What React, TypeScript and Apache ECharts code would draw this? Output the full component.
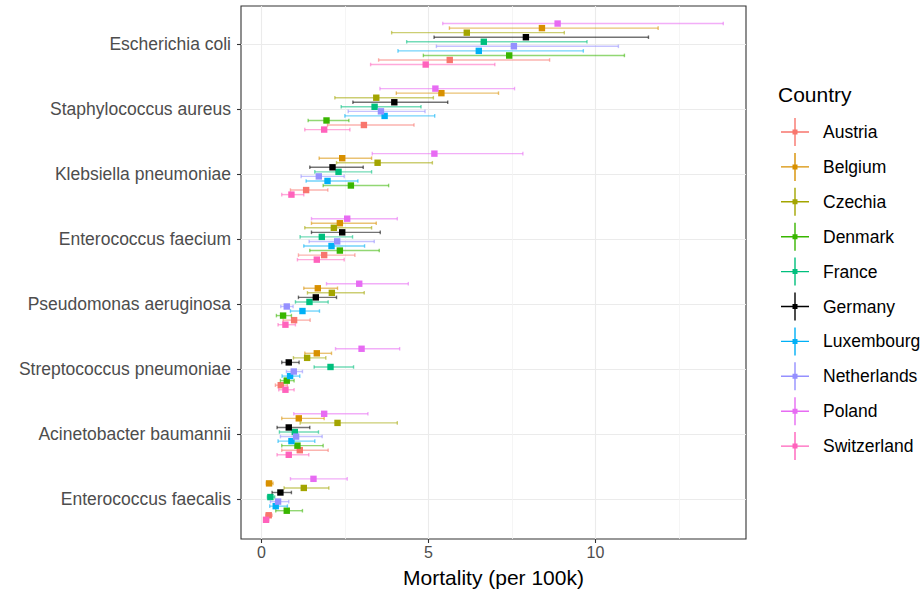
import React, { useEffect, useRef } from "react";
import * as echarts from "echarts";

// Pathogens, top to bottom
const pathogens = [
  "Escherichia coli",
  "Staphylococcus aureus",
  "Klebsiella pneumoniae",
  "Enterococcus faecium",
  "Pseudomonas aeruginosa",
  "Streptococcus pneumoniae",
  "Acinetobacter baumannii",
  "Enterococcus faecalis",
];

const countries = [
  "Austria",
  "Belgium",
  "Czechia",
  "Denmark",
  "France",
  "Germany",
  "Luxembourg",
  "Netherlands",
  "Poland",
  "Switzerland",
];

const countryColors = [
  "#F8766D",
  "#D89000",
  "#A3A500",
  "#39B600",
  "#00BF7D",
  "#000000",
  "#00B0F6",
  "#9590FF",
  "#E76BF3",
  "#FF62BC",
];

// Vertical dodge slot of each country inside a pathogen row (0 = top)
const dodgeSlot = [8, 1, 2, 7, 4, 3, 6, 5, 0, 9];
const dodgeStep = 0.07;

// Rows: pathogens; columns: countries (same order as `countries`)
const estimates = [
  [5.64, 8.4, 6.15, 7.42, 6.66, 7.92, 6.51, 7.56, 8.87, 4.92],
  [3.07, 5.39, 3.44, 1.95, 3.39, 3.98, 3.69, 3.58, 5.21, 1.88],
  [1.34, 2.42, 3.48, 2.68, 2.31, 2.13, 1.98, 1.72, 5.18, 0.9],
  [1.88, 2.35, 2.17, 2.35, 1.81, 2.42, 2.1, 2.27, 2.57, 1.66],
  [0.98, 1.69, 2.11, 0.65, 1.44, 1.63, 1.23, 0.76, 2.93, 0.72],
  [0.58, 1.66, 1.37, 0.76, 2.07, 0.82, 0.86, 0.97, 3.0, 0.72],
  [1.15, 1.12, 2.28, 1.08, 1.0, 0.82, 0.9, 1.04, 1.88, 0.82],
  [0.22, 0.23, 1.27, 0.76, 0.27, 0.57, 0.43, 0.5, 1.56, 0.14],
];

const lowerCI = [
  [3.51, 5.63, 3.9, 4.85, 4.35, 5.17, 4.09, 5.24, 5.43, 3.27],
  [1.98, 4.04, 2.2, 1.4, 2.39, 2.74, 2.5, 2.6, 3.55, 1.3],
  [0.87, 1.73, 2.25, 1.85, 1.6, 1.45, 1.34, 1.19, 3.32, 0.61],
  [1.11, 1.5, 1.3, 1.45, 1.16, 1.5, 1.27, 1.43, 1.5, 1.08],
  [0.65, 1.27, 1.38, 0.45, 1.02, 1.11, 0.87, 0.58, 1.95, 0.5],
  [0.42, 1.3, 0.96, 0.57, 1.58, 0.61, 0.62, 0.75, 2.22, 0.52],
  [0.61, 0.61, 1.16, 0.61, 0.54, 0.47, 0.5, 0.57, 0.97, 0.47],
  [0.13, 0.15, 0.68, 0.43, 0.18, 0.32, 0.25, 0.27, 0.87, 0.08],
];

const upperCI = [
  [8.63, 11.88, 9.07, 10.87, 9.75, 11.59, 9.64, 10.69, 13.83, 6.99],
  [4.57, 7.1, 5.15, 2.62, 4.78, 5.58, 5.19, 4.9, 7.58, 2.65],
  [1.99, 3.3, 5.12, 3.81, 3.3, 3.05, 2.89, 2.48, 7.83, 1.27],
  [2.8, 3.44, 3.3, 3.53, 2.73, 3.56, 3.09, 3.38, 4.07, 2.48],
  [1.46, 2.28, 3.08, 0.9, 2.0, 2.25, 1.74, 0.95, 4.4, 1.02],
  [0.78, 2.1, 1.93, 0.98, 2.76, 1.13, 1.15, 1.23, 4.14, 0.98],
  [2.0, 1.88, 4.07, 1.85, 1.71, 1.45, 1.6, 1.82, 3.19, 1.42],
  [0.32, 0.35, 2.02, 1.23, 0.4, 0.9, 0.78, 0.82, 2.57, 0.22],
];

const xTicks = [0, 5, 10];

const FONT = "'Liberation Sans', Arial, Helvetica, sans-serif";

// Cross-shaped key: horizontal error bar, vertical line and a square point
const legendIcon =
  "path://M0,13.3H28V14.7H0Z M13.3,0H14.7V28H13.3Z M11.5,11.5H16.5V16.5H11.5Z";

function renderErrorPoint(params: any, api: any) {
  const y = api.value(0);
  const est = api.value(1);
  const lo = api.value(2);
  const hi = api.value(3);
  const pLo = api.coord([lo, y]);
  const pHi = api.coord([hi, y]);
  const pEst = api.coord([est, y]);
  const color = api.visual("color");
  const cap = 1.8;
  const s = 6.4;
  const barStyle = { stroke: color, lineWidth: 1.4, opacity: 0.55 };
  return {
    type: "group",
    children: [
      {
        type: "line",
        shape: { x1: pLo[0], y1: pLo[1], x2: pHi[0], y2: pHi[1] },
        style: barStyle,
      },
      {
        type: "line",
        shape: { x1: pLo[0], y1: pLo[1] - cap, x2: pLo[0], y2: pLo[1] + cap },
        style: barStyle,
      },
      {
        type: "line",
        shape: { x1: pHi[0], y1: pHi[1] - cap, x2: pHi[0], y2: pHi[1] + cap },
        style: barStyle,
      },
      {
        type: "rect",
        shape: { x: pEst[0] - s / 2, y: pEst[1] - s / 2, width: s, height: s },
        style: { fill: color },
      },
    ],
  };
}

export default function App() {
  const ref = useRef<HTMLDivElement>(null);

  useEffect(() => {
    if (!ref.current) return;
    const chart = echarts.init(ref.current, undefined, { renderer: "svg" });

    const series = countries.map((country, ci) => ({
      name: country,
      type: "custom",
      coordinateSystem: "cartesian2d",
      xAxisIndex: 0,
      yAxisIndex: 0,
      itemStyle: { color: countryColors[ci] },
      encode: { x: [1, 2, 3], y: 0 },
      renderItem: renderErrorPoint,
      data: pathogens.map((_, pi) => [
        pi + (dodgeSlot[ci] - 4.5) * dodgeStep,
        estimates[pi][ci],
        lowerCI[pi][ci],
        upperCI[pi][ci],
      ]),
    }));

    chart.setOption({
      animation: false,
      backgroundColor: "#ffffff",
      textStyle: { fontFamily: FONT },
      title: {
        text: "Country",
        left: 778,
        top: 84,
        padding: 0,
        textStyle: {
          fontFamily: FONT,
          fontSize: 21,
          fontWeight: "normal",
          color: "#000000",
        },
      },
      legend: {
        orient: "vertical",
        left: 781,
        top: 118,
        padding: 0,
        itemWidth: 28,
        itemHeight: 28,
        itemGap: 6.9,
        selectedMode: false,
        textStyle: {
          fontFamily: FONT,
          fontSize: 17.5,
          color: "#000000",
          padding: [0, 0, 0, 9],
        },
        data: countries.map((c) => ({ name: c, icon: legendIcon })),
      },
      grid: [
        {
          left: 241,
          right: 177,
          top: 6,
          bottom: 55,
          show: true,
          backgroundColor: "#ffffff",
          borderColor: "#333333",
          borderWidth: 1.1,
          containLabel: false,
        },
        {
          left: 241,
          right: 177,
          top: 44,
          bottom: 95,
          show: false,
          containLabel: false,
        },
      ],
      xAxis: [
        {
          type: "value",
          gridIndex: 0,
          min: -0.61,
          max: 14.51,
          splitNumber: 3,
          name: "Mortality (per 100k)",
          nameLocation: "middle",
          nameGap: 28,
          nameTextStyle: { fontFamily: FONT, fontSize: 21, color: "#000000" },
          axisLine: { show: false, onZero: false },
          axisTick: {
            show: true,
            length: 4,
            customValues: xTicks,
            lineStyle: { color: "#333333", width: 1.1 },
          },
          axisLabel: {
            customValues: xTicks,
            margin: 5,
            fontFamily: FONT,
            fontSize: 16,
            color: "#4d4d4d",
            formatter: (v: number) => (xTicks.includes(v) ? String(v) : ""),
          },
          splitLine: { show: true, lineStyle: { color: "#ebebeb", width: 1.1 } },
          minorTick: { show: false, splitNumber: 2 },
          minorSplitLine: { show: true, lineStyle: { color: "#f2f2f2", width: 0.8 } },
        },
        {
          type: "value",
          gridIndex: 1,
          min: 0,
          max: 1,
          show: false,
        },
      ],
      yAxis: [
        {
          type: "value",
          gridIndex: 0,
          min: -0.585,
          max: 7.61,
          inverse: true,
          show: false,
          axisLine: { onZero: false },
          splitLine: { show: false },
        },
        {
          type: "category",
          gridIndex: 1,
          data: pathogens,
          inverse: true,
          boundaryGap: false,
          axisLine: { show: false, onZero: false },
          axisTick: {
            show: true,
            length: 4,
            lineStyle: { color: "#333333", width: 1.1 },
          },
          axisLabel: {
            margin: 10,
            fontFamily: FONT,
            fontSize: 17.5,
            color: "#4d4d4d",
          },
          splitLine: { show: true, lineStyle: { color: "#ebebeb", width: 1.1 } },
        },
      ],
      series,
    });

    return () => chart.dispose();
  }, []);

  return (
    <div
      ref={ref}
      style={{ position: "fixed", left: 0, top: 0, width: 923, height: 594 }}
    />
  );
}
